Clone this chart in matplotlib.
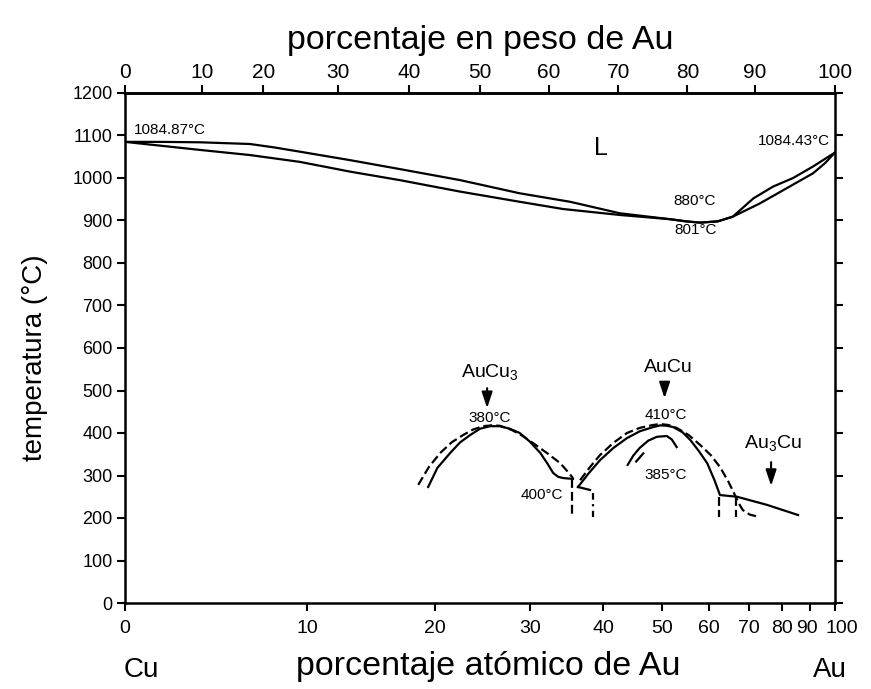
import numpy as np
import matplotlib.pyplot as plt
from matplotlib.transforms import offset_copy

plt.rcParams['font.family'] = ['Liberation Sans', 'DejaVu Sans']
plt.rcParams['mathtext.default'] = 'regular'

# x data are weight % Au (top axis), y data are temperatures in degC
liq_wt = [0, 5, 10.6, 17.6, 21, 24.6, 31.7, 38.7, 47.2, 55.6, 62.7, 69.7, 76.8, 79,
          81.0, 83.5, 85.6, 88.5, 91.3, 94.1, 96.9, 100]
liq_t = [1085, 1085, 1084, 1080, 1072, 1062, 1042, 1021, 995, 964, 944, 917, 903, 898,
         895, 898, 909, 952, 980, 1000, 1027, 1060]
sol_wt = [0, 10.6, 17.6, 24.6, 31.7, 38.7, 47.2, 55.6, 61.7, 69.7, 76.8, 79,
          81.0, 83.5, 85.6, 89.4, 93.2, 96.9, 98.6, 100]
sol_t = [1085, 1066, 1054, 1038, 1015, 995, 968, 944, 927, 913, 903, 898,
         895, 898, 909, 940, 976, 1011, 1035, 1060]

# ordered phases
aucu3_wt = [42.7, 44.0, 45.8, 47.2, 48.6, 50.0, 51.4, 52.8, 54.2, 55.6, 57.0, 58.5,
            59.5, 60.3, 61.0, 61.7, 63.1]
aucu3_t = [273, 318, 353, 378, 395, 410, 416, 416, 410, 400, 380, 353,
           328, 306, 297, 294, 292]
aucu3d_wt = [41.3, 42.8, 44.4, 46.0, 47.6, 49.0, 50.4, 51.6, 52.8, 54.5, 56.0, 57.5,
             59.5, 61.3, 62.3, 63.1]
aucu3d_t = [278, 320, 353, 378, 395, 408, 416, 418, 417, 407, 393, 376,
            352, 329, 310, 294]

aucu_wt = [63.8, 65.3, 66.9, 68.8, 70.7, 72.5, 74.4, 75.4, 76.3, 77.2, 78.5, 79.6,
           80.8, 82.0, 83.0, 83.8, 86.2, 90.4, 94.8]
aucu_t = [273, 305, 336, 365, 388, 404, 414, 418, 417, 414, 402, 384,
          358, 329, 290, 254, 250, 231, 207]
aucud_wt = [64.1, 65.5, 66.9, 68.8, 70.7, 72.5, 74.4, 75.4, 76.5, 77.7, 79.4, 81.0,
            82.5, 83.8, 85.0, 85.9, 86.5, 87.0, 88.0, 89.4]
aucud_t = [289, 320, 348, 377, 400, 412, 419, 421, 419, 412, 395, 372,
           348, 320, 285, 254, 233, 219, 208, 202]
inner_wt = [70.8, 71.6, 72.5, 73.7, 74.9, 76.3, 77.0, 77.7]
inner_t = [325, 347, 365, 382, 391, 393, 385, 367]

vline_wt = [63.0, 83.7, 86.1]
vline_top = [292, 249, 249]
vline_bot = 202

# axis ticks
temp_ticks = list(range(0, 1201, 100))
top_pos = [0, 10.8, 19.5, 30, 40, 50, 59.7, 69.5, 79.2, 88.7, 100]
top_lbl = [0, 10, 20, 30, 40, 50, 60, 70, 80, 90, 100]
at_pct = np.array([0, 10, 20, 30, 40, 50, 60, 70, 80, 90, 100])
m_au, m_cu = 196.97, 63.55
at_pos = 100 * at_pct * m_au / (at_pct * m_au + (100 - at_pct) * m_cu)

fig = plt.figure(figsize=(8.71, 6.89), dpi=100)
ax = fig.add_axes([125 / 871, 1 - 603 / 689, 710 / 871, 510 / 689])

lw = 1.6
dash = (0, (4, 1.8))
ax.plot(liq_wt, liq_t, color='k', lw=lw)
ax.plot(sol_wt, sol_t, color='k', lw=lw)
ax.plot(aucu3_wt, aucu3_t, color='k', lw=lw)
ax.plot(aucu3d_wt, aucu3d_t, color='k', lw=lw, ls=dash)
ax.plot(aucu_wt, aucu_t, color='k', lw=lw)
ax.plot(aucud_wt, aucud_t, color='k', lw=lw, ls=dash)
ax.plot(inner_wt, inner_t, color='k', lw=lw)
ax.plot([72.0, 73.0], [333, 352], color='k', lw=lw)
ax.plot([63.8, 65.5], [273, 266], color='k', lw=lw)
ax.plot([65.9, 65.9], [259, vline_bot], color='k', lw=lw, ls=(0, (3, 2, 1, 2)))
for x, t in zip(vline_wt, vline_top):
    ax.plot([x, x], [t, vline_bot], color='k', lw=lw, ls=dash)

ax.set_xlim(0, 100)
ax.set_ylim(0, 1200)
ax.set_yticks(temp_ticks)
ax.set_xticks(at_pos)
ax.set_xticklabels([str(v) for v in at_pct])
ax.tick_params(axis='both', direction='out', length=6, width=1.5, colors='k')
ax.tick_params(axis='y', pad=3, labelsize=13)
ax.tick_params(axis='x', pad=6, labelsize=14)
ax.tick_params(axis='y', which='both', right=True)

# the last bottom labels are crowded: nudge them apart a little
xlabels = ax.get_xticklabels()
xlabels[-2].set_transform(offset_copy(xlabels[-2].get_transform(), fig=fig, x=-3, units='dots'))
xlabels[-1].set_transform(offset_copy(xlabels[-1].get_transform(), fig=fig, x=7, units='dots'))

top = ax.secondary_xaxis('top')
top.set_xticks(top_pos)
top.set_xticklabels([str(v) for v in top_lbl])
top.tick_params(direction='out', length=6, width=1.5, labelsize=15, pad=2)
for sp in list(ax.spines.values()) + [top.spines['top']]:
    sp.set_linewidth(1.8)

# labels on the diagram
small = 11
ax.text(1.2, 1097, '1084.87°C', fontsize=small, ha='left', va='bottom')
ax.text(99.3, 1087, '1084.43°C', fontsize=small, ha='right', va='center')
ax.text(67, 1071, 'L', fontsize=18, ha='center', va='center')
ax.text(80.2, 946, '880°C', fontsize=small, ha='center', va='center')
ax.text(80.4, 878, '801°C', fontsize=small, ha='center', va='center')
ax.text(51.3, 418, '380°C', fontsize=small, ha='center', va='bottom')
ax.text(58.7, 254, '400°C', fontsize=small, ha='center', va='center')
ax.text(76.2, 442, '410°C', fontsize=small, ha='center', va='center')
ax.text(76.2, 301, '385°C', fontsize=small, ha='center', va='center')

ax.text(51.4, 544, 'AuCu$_3$', fontsize=14, ha='center', va='center')
ax.text(76.5, 555, 'AuCu', fontsize=14, ha='center', va='center')
ax.text(91.3, 376, 'Au$_3$Cu', fontsize=14, ha='center', va='center')
arrow = dict(arrowstyle='-|>,head_length=0.6,head_width=0.2', color='k', lw=1.5,
             mutation_scale=16)
ax.annotate('', xy=(51.0, 452), xytext=(51.0, 512), arrowprops=arrow)
ax.annotate('', xy=(76.0, 475), xytext=(76.0, 527), arrowprops=arrow)
ax.annotate('', xy=(91.0, 269), xytext=(91.0, 338), arrowprops=arrow)

fig.text(480 / 871, 1 - 40 / 689, 'porcentaje en peso de Au', fontsize=24.5,
         ha='center', va='center')
fig.text(35 / 871, 1 - 358 / 689, 'temperatura (°C)', fontsize=20, rotation=90,
         ha='center', va='center')
fig.text(488 / 871, 1 - 667 / 689, 'porcentaje atómico de Au', fontsize=24.5,
         ha='center', va='center')
fig.text(141 / 871, 1 - 670 / 689, 'Cu', fontsize=20, ha='center', va='center')
fig.text(830 / 871, 1 - 670 / 689, 'Au', fontsize=20, ha='center', va='center')

fig.savefig('out.png', dpi=100)
